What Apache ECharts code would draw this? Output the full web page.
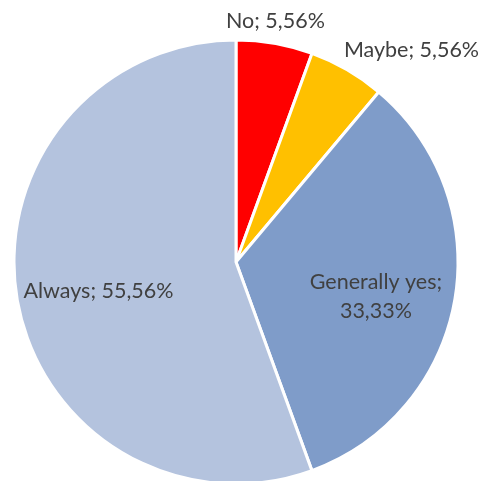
<!DOCTYPE html>
<html>
<head>
<meta charset="utf-8">
<script src="https://cdn.jsdelivr.net/npm/echarts@6/dist/echarts.min.js"></script>
<style>
  html, body { margin: 0; padding: 0; background: #fff; }
  #chart { width: 492px; height: 481px; }
</style>
</head>
<body>
<div id="chart"></div>
<script>
// Answer shares, clockwise from 12 o'clock
const categories = ['No', 'Maybe', 'Generally yes', 'Always'];
const shares = [5.56, 5.56, 33.33, 55.56];
const colors = ['#FF0000', '#FFC000', '#7F9CC9', '#B4C3DE'];

// Pie geometry (pixels)
const CX = 236, CY = 262, R = 222;
// Label placement: distance from centre as a fraction of R, plus a small nudge
const labelPlace = [
  { k: 1.10, dx: -3, dy: 0 },
  { k: 1.22, dx: 40, dy: 23 },
  { k: 0.64, dx: 0, dy: 10 },
  { k: 0.62, dx: -2, dy: 5 }
];

const total = shares.reduce((a, b) => a + b, 0);
const midAngles = [];
let acc = 0;
shares.forEach(v => {
  midAngles.push((acc + v / 2) / total * 2 * Math.PI);
  acc += v;
});

const fmt = v => v.toFixed(2).replace('.', ',') + '%';

const chart = echarts.init(document.getElementById('chart'));
chart.setOption({
  animation: false,
  backgroundColor: '#ffffff',
  series: [{
    type: 'pie',
    center: [CX, CY],
    radius: [0, R],
    startAngle: 90,
    clockwise: true,
    avoidLabelOverlap: false,
    data: categories.map((name, i) => ({
      name,
      value: shares[i],
      itemStyle: { color: colors[i] },
      label: {
        formatter: i === 2 ? name + ';\n' + fmt(shares[i]) : name + '; ' + fmt(shares[i])
      }
    })),
    itemStyle: { borderColor: '#ffffff', borderWidth: 3 },
    label: {
      show: true,
      position: 'inside',
      color: '#404040',
      fontFamily: 'Lato',
      fontSize: 21.5,
      lineHeight: 29,
      align: 'center'
    },
    labelLine: { show: false },
    labelLayout: function (p) {
      const i = p.dataIndex;
      const a = midAngles[i];
      const pl = labelPlace[i];
      return {
        x: CX + Math.sin(a) * R * pl.k + pl.dx,
        y: CY - Math.cos(a) * R * pl.k + pl.dy,
        align: 'center',
        verticalAlign: 'middle'
      };
    }
  }]
});
</script>
</body>
</html>
